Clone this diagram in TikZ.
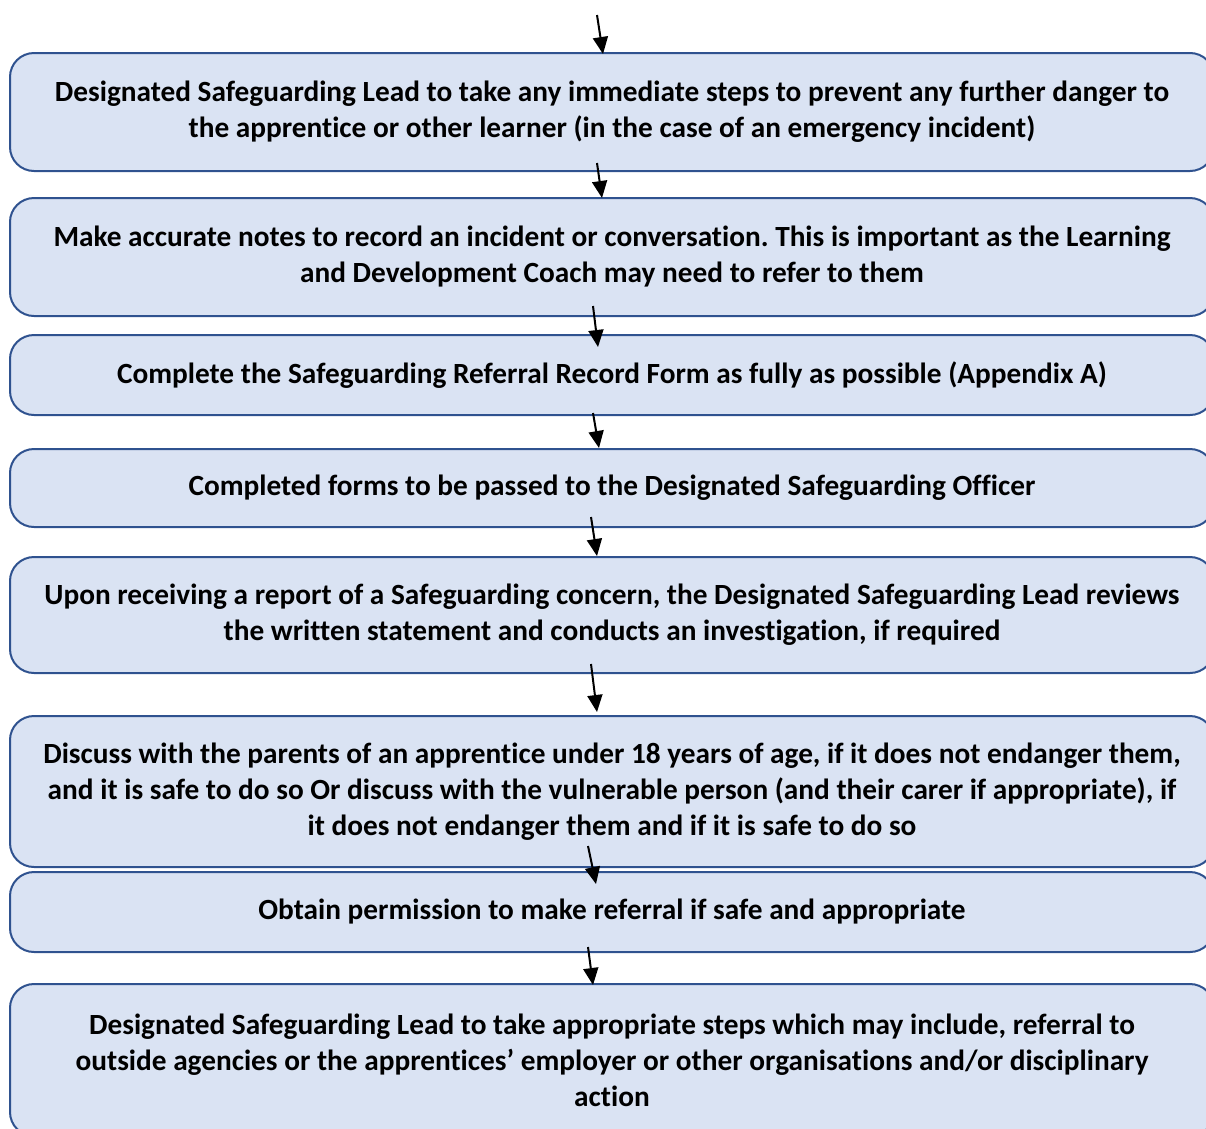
\documentclass[tikz,border=0pt]{standalone}
\usepackage{fontspec}
\setmainfont{Carlito}[Ligatures=NoCommon]
\usetikzlibrary{arrows.meta}
\definecolor{boxfill}{HTML}{DAE3F3}
\definecolor{boxline}{HTML}{2F528F}
\tikzset{
  stepbox/.style={draw=boxline, fill=boxfill, line width=2pt, rounded corners=24pt,
    minimum width=1204pt, inner sep=0pt, align=center,
    font=\fontsize{29.3pt}{36pt}\selectfont\bfseries\frenchspacing},
  flowarrow/.style={-{Triangle[length=17pt,width=15pt]}, line width=2pt, black}
}
\begin{document}
\begin{tikzpicture}[x=1pt,y=-1pt]
\useasboundingbox (0,0) rectangle (1206,1128);
\clip (0,0) rectangle (1206,1128);
\node[stepbox, minimum height=118pt] (b1) at (612,112) {Designated Safeguarding Lead to take any immediate steps to prevent any further danger to\\the apprentice or other learner (in the case of an emergency incident)};
\node[stepbox, minimum height=118pt] (b2) at (612,257) {\raisebox{4pt}{\begin{tabular}{@{}c@{}}Make accurate notes to record an incident or conversation. This is important as the Learning\\and Development Coach may need to refer to them\end{tabular}}};
\node[stepbox, minimum height=80pt] (b3) at (612,375) {Complete the Safeguarding Referral Record Form as fully as possible (Appendix A)};
\node[stepbox, minimum height=78pt] (b4) at (612,488) {Completed forms to be passed to the Designated Safeguarding Officer};
\node[stepbox, minimum height=116pt] (b5) at (612,615) {\raisebox{3pt}{\begin{tabular}{@{}c@{}}Upon receiving a report of a Safeguarding concern, the Designated Safeguarding Lead reviews\\the written statement and conducts an investigation, if required\end{tabular}}};
\node[stepbox, minimum height=151pt] (b6) at (612,791.5) {Discuss with the parents of an apprentice under 18 years of age, if it does not endanger them,\\and it is safe to do so Or discuss with the vulnerable person (and their carer if appropriate), if\\it does not endanger them and if it is safe to do so};
\node[stepbox, minimum height=80pt] (b7) at (612,912) {Obtain permission to make referral if safe and appropriate};
\node[stepbox, minimum height=152pt] (b8) at (612,1060) {Designated Safeguarding Lead to take appropriate steps which may include, referral to\\outside agencies or the apprentices’ employer or other organisations and/or disciplinary\\action};
\coordinate (s0) at (597,15);  \coordinate (t0) at (603,54);
\coordinate (s1) at (597,163); \coordinate (t1) at (602,198);
\coordinate (s2) at (593,306); \coordinate (t2) at (598,347);
\coordinate (s3) at (593,413); \coordinate (t3) at (599,448);
\coordinate (s4) at (591,517); \coordinate (t4) at (597,556);
\coordinate (s5) at (591,664); \coordinate (t5) at (597,712);
\coordinate (s6) at (588,846); \coordinate (t6) at (596,884);
\coordinate (s7) at (588,947); \coordinate (t7) at (593,985);
\foreach \i in {0,...,7} { \draw[flowarrow] (s\i) -- (t\i); }
\end{tikzpicture}
\end{document}
